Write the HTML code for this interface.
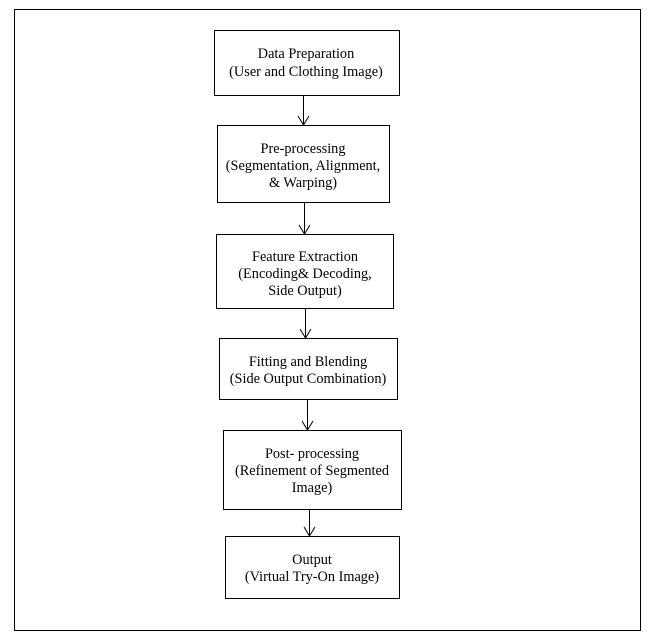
<!DOCTYPE html>
<html><head><meta charset="utf-8"><style>
html,body{margin:0;padding:0;background:#fff;width:654px;height:637px;overflow:hidden}
</style></head><body>
<svg width="654" height="637" xmlns="http://www.w3.org/2000/svg" font-family="Liberation Serif, serif" font-size="14.3" fill="#000">
<rect x="14.5" y="9.5" width="626" height="621" fill="none" stroke="#000" stroke-width="1"/>
<g fill="none" stroke="#000" stroke-width="1">
<rect x="214.5" y="30.5" width="185" height="65"/>
<rect x="217.5" y="125.5" width="172" height="77"/>
<rect x="216.5" y="234.5" width="177" height="74"/>
<rect x="219.5" y="338.5" width="178" height="61"/>
<rect x="223.5" y="430.5" width="178" height="79"/>
<rect x="225.5" y="536.5" width="174" height="62"/>
<path d="M303.5 95 V125 M298 116 L303.5 125 L309 116"/>
<path d="M304.5 202 V234 M299 225 L304.5 234 L310 225"/>
<path d="M305.5 308 V338 M300 329 L305.5 338 L311 329"/>
<path d="M307.5 399 V430 M302 421 L307.5 430 L313 421"/>
<path d="M309.5 509 V536 M304 527 L309.5 536 L315 527"/>
</g>
<g text-anchor="middle">
<text x="306" y="58">Data Preparation</text>
<text x="306" y="76">(User and Clothing Image)</text>
<text x="303" y="153">Pre-processing</text>
<text x="303" y="170">(Segmentation, Alignment,</text>
<text x="303" y="187">&amp; Warping)</text>
<text x="305" y="261">Feature Extraction</text>
<text x="305" y="278">(Encoding&amp; Decoding,</text>
<text x="305" y="295">Side Output)</text>
<text x="308" y="366">Fitting and Blending</text>
<text x="308" y="383">(Side Output Combination)</text>
<text x="312" y="458">Post- processing</text>
<text x="312" y="475">(Refinement of Segmented</text>
<text x="312" y="492">Image)</text>
<text x="312" y="564">Output</text>
<text x="312" y="581">(Virtual Try-On Image)</text>
</g>
</svg>
</body></html>
